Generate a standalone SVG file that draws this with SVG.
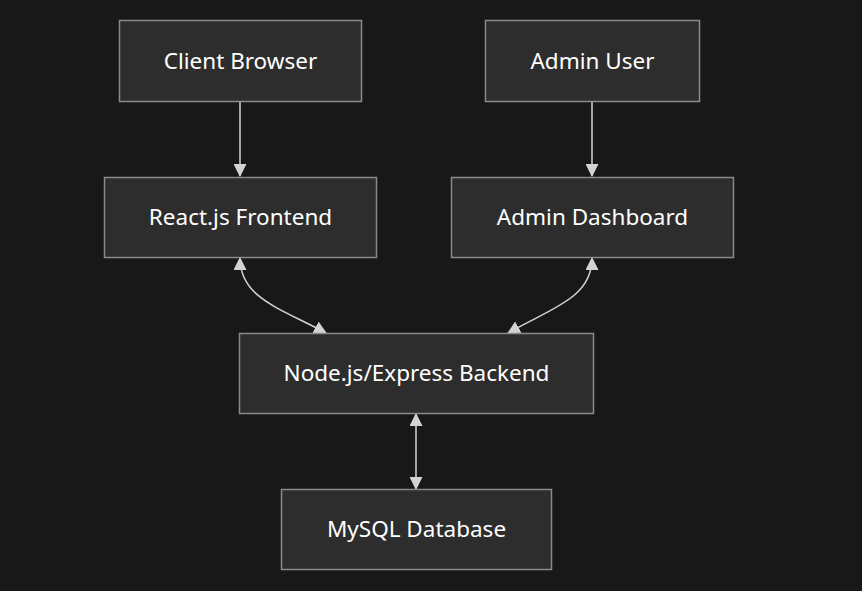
<svg xmlns="http://www.w3.org/2000/svg" width="862" height="591" viewBox="0 0 862 591">
<defs>
<style>
.node rect{fill:#2d2d2d;stroke:#8a8a8a;stroke-width:1.5}
.node text{fill:#ffffff;font-family:"Noto Sans","Open Sans",sans-serif;font-size:22.5px;text-anchor:middle;dominant-baseline:central}
.edge{fill:none;stroke:#d3d3d3;stroke-width:1.5}
</style>
<marker id="ah" viewBox="0 0 12 12" refX="11" refY="6" markerWidth="13" markerHeight="13" markerUnits="userSpaceOnUse" orient="auto-start-reverse">
<path d="M0,0 L12,6 L0,12 Z" fill="#d3d3d3"/>
</marker>
</defs>
<rect width="862" height="591" fill="#181818"/>
<g id="connectors">
<path class="edge" d="M240,101 L240,176" marker-end="url(#ah)"/>
<path class="edge" d="M592,101 L592,176" marker-end="url(#ah)"/>
<path class="edge" d="M240,258 C240,298 280,308 326,333" marker-start="url(#ah)" marker-end="url(#ah)"/>
<path class="edge" d="M592,258 C592,298 552,308 508,333" marker-start="url(#ah)" marker-end="url(#ah)"/>
<path class="edge" d="M416,414 L416,489" marker-start="url(#ah)" marker-end="url(#ah)"/>
</g>
<g id="client" class="node"><rect x="119.5" y="20.5" width="242" height="81"/><text x="240.5" y="60">Client Browser</text></g>
<g id="admin" class="node"><rect x="485.5" y="20.5" width="214" height="81"/><text x="592.5" y="60">Admin User</text></g>
<g id="react" class="node"><rect x="104.5" y="177.5" width="272" height="80"/><text x="240.5" y="216">React.js Frontend</text></g>
<g id="dashboard" class="node"><rect x="451.5" y="177.5" width="282" height="80"/><text x="592.5" y="216">Admin Dashboard</text></g>
<g id="backend" class="node"><rect x="239.5" y="333.5" width="354" height="80"/><text x="416.5" y="372">Node.js/Express Backend</text></g>
<g id="mysql" class="node"><rect x="281.5" y="489.5" width="270" height="80"/><text x="416.5" y="528">MySQL Database</text></g>
</svg>
